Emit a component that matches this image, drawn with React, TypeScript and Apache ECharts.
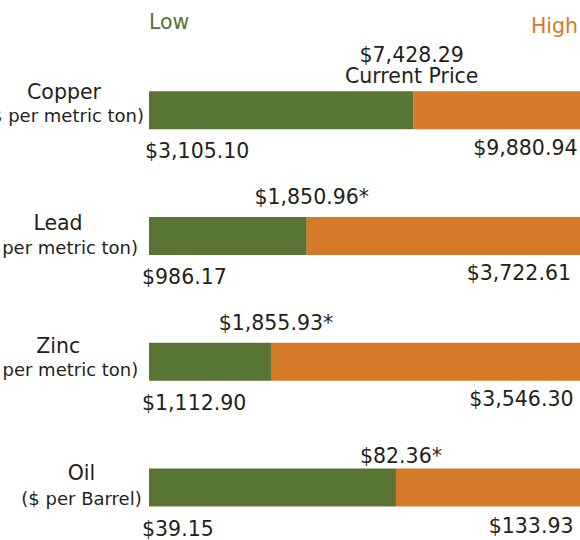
import React, { useEffect, useRef } from 'react';
import * as echarts from 'echarts';

// ---- data ----
const commodities = ['Copper', 'Lead', 'Zinc', 'Oil'];
const units = ['($ per metric ton)', '($ per metric ton)', '($ per metric ton)', '($ per Barrel)'];
const lowPrices = ['$3,105.10', '$986.17', '$1,112.90', '$39.15'];
const highPrices = ['$9,880.94', '$3,722.61', '$3,546.30', '$133.93'];
const currentPrices = ['$7,428.29', '$1,850.96', '$1,855.93', '$82.36'];
const currentMarks = ['', '*', '*', '*'];
const currentNotes = ['Current Price', '', '', ''];
// share of each range bar drawn in green (low side) and orange (high side), % of bar length
const lowShare = [61.3, 36.6, 28.3, 57.3];
const highShare = [38.7, 63.4, 71.7, 42.7];
const legendLabels = ['Low', 'High'];

// ---- styling / layout ----
const GREEN = '#587535';
const ORANGE = '#d57a28';
const INK = '#231f20';
const FONT = 'DejaVu Sans';
const BIG = 20.5;
const SMALL = 18;

const titleX = [64, 58, 58.3, 81.5];
const titleDy = [-18.6, -13, -15.4, -14.5];
const subDy = [5.2, 11.8, 7.3, 10.8];
const curDy = [-54.5, -39.2, -38.7, -31.7];
const noteLineH = 21;
const lowX = [145, 142, 142, 142];
const lowDy = [40.5, 40.8, 41.1, 41.7];
const highX = [577.5, 571, 573.5, 573.5];
const highDy = [37.2, 36.6, 37.3, 38.3];

function txt(text: string, x: number, y: number, align: string, size: number, color: string, lineHeight?: number) {
  const style: any = {
    text,
    fill: color,
    fontSize: size,
    fontFamily: FONT,
    align,
    verticalAlign: 'middle',
    textAlign: align,
    textVerticalAlign: 'middle',
  };
  if (lineHeight) style.lineHeight = lineHeight;
  return { type: 'text', x, y, silent: true, style };
}

export default function App() {
  const ref = useRef<HTMLDivElement>(null);
  useEffect(() => {
    if (!ref.current) return;
    const chart = echarts.init(ref.current, undefined, { renderer: 'svg' });
    chart.setOption({
      animation: false,
      grid: { left: 149, right: 0, top: 47.45, height: 502.8 },
      xAxis: { type: 'value', min: 0, max: 100, show: false },
      yAxis: { type: 'category', data: commodities, inverse: true, show: false },
      series: [
        {
          name: legendLabels[0],
          type: 'bar',
          stack: 'range',
          data: lowShare,
          barWidth: 38,
          itemStyle: { color: GREEN },
          silent: true,
        },
        {
          name: legendLabels[1],
          type: 'bar',
          stack: 'range',
          data: highShare,
          barWidth: 38,
          itemStyle: { color: ORANGE },
          silent: true,
        },
      ],
    });

    const els: any[] = [];
    els.push(txt(legendLabels[0], 149, 22, 'left', BIG, GREEN));
    els.push(txt(legendLabels[1], 578, 25.5, 'right', BIG, ORANGE));
    const markW = 10;
    commodities.forEach((name, i) => {
      const cy = chart.convertToPixel({ yAxisIndex: 0 }, name) as number;
      const bx = chart.convertToPixel({ xAxisIndex: 0 }, lowShare[i]) as number;
      els.push(txt(name, titleX[i], cy + titleDy[i], 'center', BIG, INK));
      els.push(txt(units[i], titleX[i], cy + subDy[i], 'center', SMALL, INK));
      const shift = currentMarks[i] ? markW / 2 : 0;
      if (currentNotes[i]) {
        els.push(
          txt(currentPrices[i] + currentMarks[i] + '\n' + currentNotes[i], bx - 1.5, cy + curDy[i] + 10, 'center', BIG, INK, noteLineH)
        );
      } else {
        els.push(txt(currentPrices[i] + currentMarks[i], bx + shift, cy + curDy[i], 'center', BIG, INK));
      }
      els.push(txt(lowPrices[i], lowX[i], cy + lowDy[i], 'left', BIG, INK));
      els.push(txt(highPrices[i], highX[i], cy + highDy[i], 'right', BIG, INK));
    });
    chart.setOption({ graphic: { elements: els } });

    return () => chart.dispose();
  }, []);
  return (
    <div
      ref={ref}
      style={{ position: 'fixed', left: 0, top: 0, width: 580, height: 560, background: '#fff' }}
    />
  );
}
